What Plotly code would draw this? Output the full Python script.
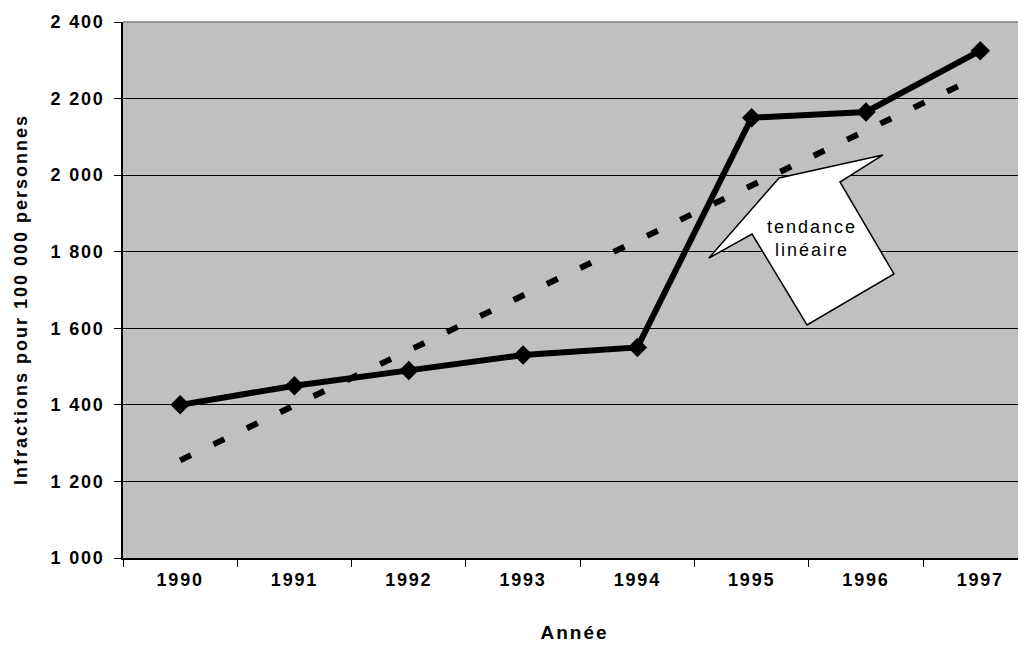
import plotly.graph_objects as go

years = ["1990", "1991", "1992", "1993", "1994", "1995", "1996", "1997"]
rates = [1400, 1450, 1490, 1530, 1550, 2150, 2165, 2325]
trend_years = ["1990", "1997"]
trend_values = [1255, 2260]
y_ticks = [1000, 1200, 1400, 1600, 1800, 2000, 2200, 2400]

# page body has an 8px margin: figure is placed at (8, 8) of the window
OFF = 8
W, H = 1026 - OFF, 645 - OFF
L, R, T, B = 123 - OFF, 0, 22 - OFF, 645 - 558
PW, PH = W - L - R, H - T - B

def px(sx):
    return (sx - OFF - L) / PW

def py(sy):
    return (H - B - (sy - OFF)) / PH

FONT = "Liberation Sans, Arial, sans-serif"

fig = go.Figure()
fig.add_trace(go.Scatter(
    x=trend_years, y=trend_values, mode="lines",
    line=dict(color="black", width=6, dash="12px,25px"),
    hoverinfo="skip", showlegend=False,
))
fig.add_trace(go.Scatter(
    x=years, y=rates, mode="lines+markers",
    line=dict(color="black", width=6),
    marker=dict(symbol="diamond", size=15, color="black"),
    showlegend=False,
))

arrow_pts = [(883, 155), (779, 178), (709, 258), (752, 234), (807, 325), (894, 274), (840, 182)]
path = "M " + " L ".join(f"{px(a):.4f},{py(b):.4f}" for a, b in arrow_pts) + " Z"
fig.add_shape(type="path", path=path, xref="paper", yref="paper",
              fillcolor="white", line=dict(color="black", width=1.5), layer="above")
fig.add_shape(type="line", xref="paper", yref="paper", x0=0, x1=1, y0=1, y1=1,
              line=dict(color="#808080", width=1.5))
fig.add_annotation(text="tendance<br>linéaire", xref="paper", yref="paper",
                   x=px(812), y=py(238), xanchor="center", yanchor="middle",
                   showarrow=False,
                   font=dict(family=FONT, size=18, color="black"))
fig.add_annotation(text="Infractions pour 100 000 personnes", xref="paper", yref="paper",
                   x=px(21), y=py(300), xanchor="center", yanchor="middle",
                   textangle=-90, showarrow=False,
                   font=dict(family=FONT, size=18, color="black", weight="bold"))

fig.update_layout(
    width=W, height=H,
    margin=dict(l=L, r=R, t=T, b=B, pad=0),
    paper_bgcolor="white", plot_bgcolor="#C0C0C0",
    separators=", ",
    font=dict(family=FONT, color="black"),
    xaxis=dict(
        type="category", categoryorder="array", categoryarray=years,
        range=[-0.5, 7.4],
        showline=True, linecolor="black", linewidth=1.5,
        ticks="outside", tickson="boundaries", ticklen=7, tickcolor="black",
        showgrid=False, zeroline=False,
        tickfont=dict(family=FONT, size=18, weight="bold"),
        ticklabelstandoff=5,
        title=dict(text="Année", font=dict(family=FONT, size=19, weight="bold"), standoff=36),
    ),
    yaxis=dict(
        range=[1000, 2400], tickvals=y_ticks, tickformat=",d",
        showline=True, linecolor="black", linewidth=1.5,
        ticks="outside", ticklen=7, tickcolor="black",
        showgrid=True, gridcolor="black", gridwidth=1, zeroline=False,
        tickfont=dict(family=FONT, size=18, weight="bold"),
        ticklabelstandoff=6,
    ),
)

post = """
var s = document.createElement('style');
s.textContent = '.xtick text, .ytick text {letter-spacing: 1.8px;} '
  + '.g-xtitle text, .annotation-text {letter-spacing: 2px;}';
document.head.appendChild(s);
"""

fig.write_html("out.html", post_script=post)
